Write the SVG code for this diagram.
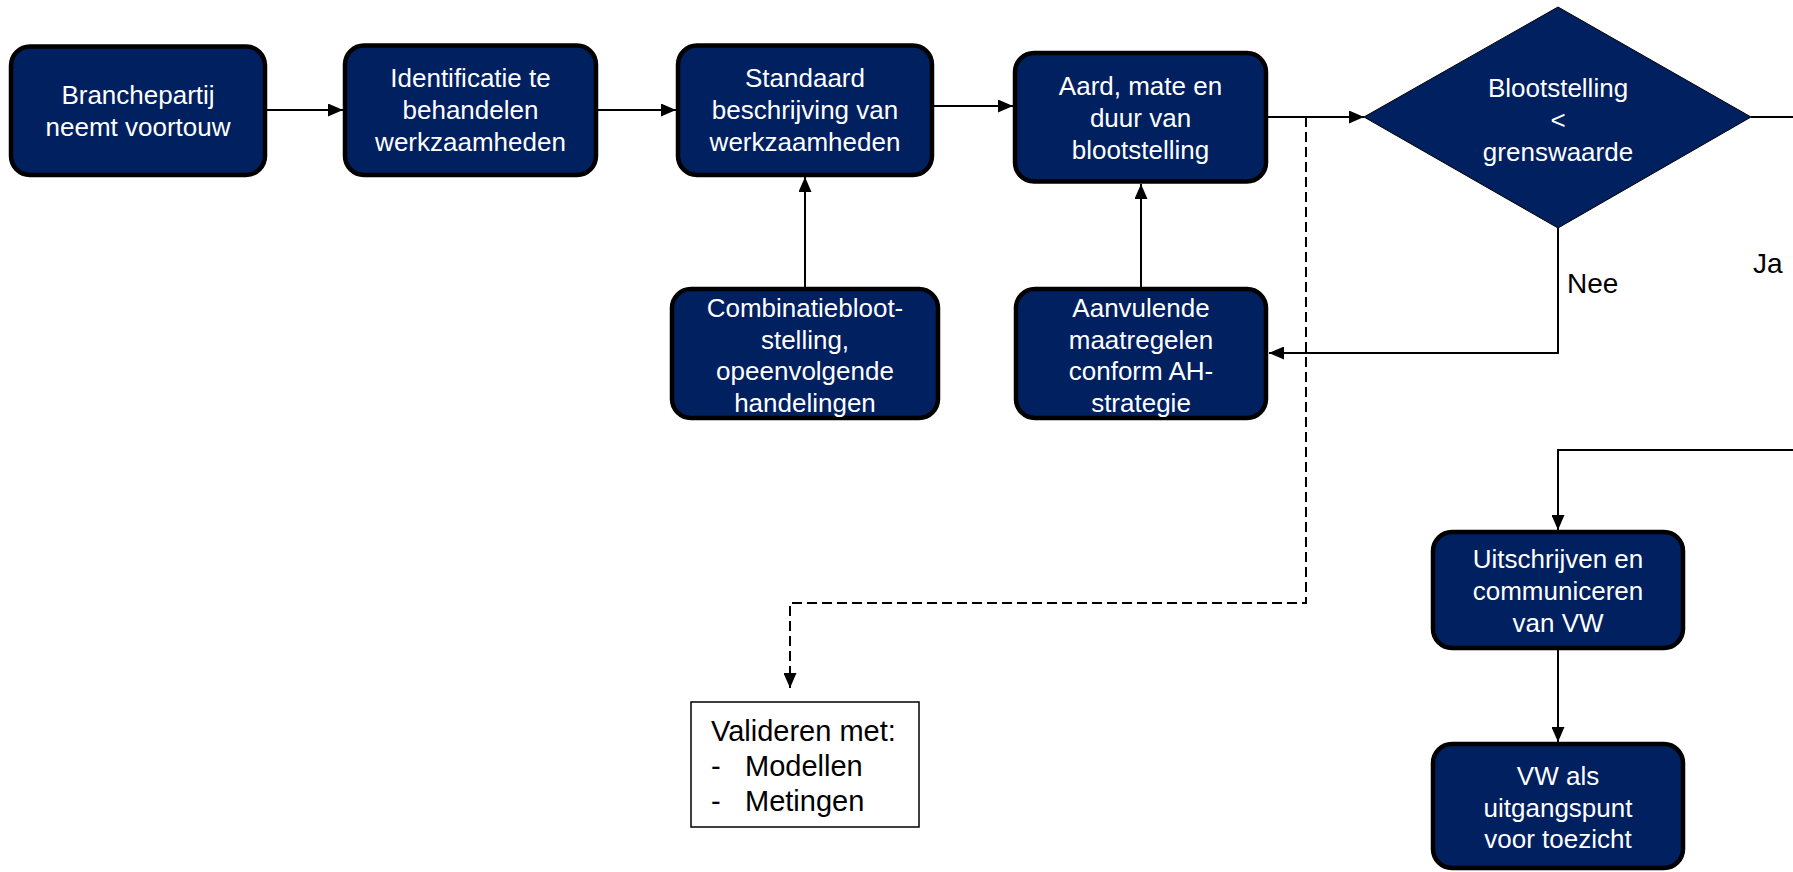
<svg xmlns="http://www.w3.org/2000/svg" width="1793" height="872" viewBox="0 0 1793 872">
<style>
.box{fill:#002060;stroke:#000;stroke-width:4.5}
.dia{fill:#002060;stroke:#000;stroke-width:1}
.t{font-family:"Liberation Sans",Arial,sans-serif;font-size:26px;fill:#fff;text-anchor:middle}
.lbl{font-family:"Liberation Sans",Arial,sans-serif;font-size:28px;fill:#000}
.nt{font-family:"Liberation Sans",Arial,sans-serif;font-size:29px;fill:#000}
.ln{fill:none;stroke:#000;stroke-width:2}
.dash{fill:none;stroke:#000;stroke-width:2;stroke-dasharray:10 5}
.note{fill:#fff;stroke:#000;stroke-width:1.5}
</style>
<defs>
<marker id="arr" viewBox="0 0 15 13" refX="15" refY="6.5" markerWidth="15" markerHeight="13" markerUnits="userSpaceOnUse" orient="auto">
<path d="M0,0 L15,6.5 L0,13 Z" fill="#000"/>
</marker>
</defs>
<rect width="1793" height="872" fill="#fff"/>
<g id="connectors">
<path class="ln" d="M267,110 H343" marker-end="url(#arr)"/>
<path class="ln" d="M598,110 H676" marker-end="url(#arr)"/>
<path class="ln" d="M934,106 H1013" marker-end="url(#arr)"/>
<path class="ln" d="M1268,117 H1364" marker-end="url(#arr)"/>
<path class="ln" d="M1751,117 H1793"/>
<path class="ln" d="M1793,450 H1558 V530" marker-end="url(#arr)"/>
<path class="ln" d="M1558,228 V353 H1269" marker-end="url(#arr)"/>
<path class="ln" d="M805,287 V177" marker-end="url(#arr)"/>
<path class="ln" d="M1141,287 V184" marker-end="url(#arr)"/>
<path class="ln" d="M1558,650 V742" marker-end="url(#arr)"/>
<path class="dash" d="M1306,117 V603 H790 V688" marker-end="url(#arr)"/>
<text class="lbl" x="1567" y="293">Nee</text>
<text class="lbl" x="1753" y="273">Ja</text>
</g>
<g id="n1">
<rect class="box" x="11" y="46.5" width="254" height="128.5" rx="19"/>
<text class="t" x="138" y="104">Branchepartij</text>
<text class="t" x="138" y="136">neemt voortouw</text>
</g>
<g id="n2">
<rect class="box" x="345" y="45.5" width="251" height="129.5" rx="19"/>
<text class="t" x="470.5" y="87">Identificatie te</text>
<text class="t" x="470.5" y="119">behandelen</text>
<text class="t" x="470.5" y="151">werkzaamheden</text>
</g>
<g id="n3">
<rect class="box" x="678" y="45.5" width="254" height="129.5" rx="19"/>
<text class="t" x="805" y="87">Standaard</text>
<text class="t" x="805" y="119">beschrijving van</text>
<text class="t" x="805" y="151">werkzaamheden</text>
</g>
<g id="n4">
<rect class="box" x="1015" y="53" width="251" height="128.5" rx="19"/>
<text class="t" x="1140.5" y="95">Aard, mate en</text>
<text class="t" x="1140.5" y="127">duur van</text>
<text class="t" x="1140.5" y="159">blootstelling</text>
</g>
<g id="n5">
<polygon class="dia" points="1558,7 1751,117 1558,228 1364,117"/>
<text class="t" x="1558" y="97">Blootstelling</text>
<text class="t" x="1558" y="129">&lt;</text>
<text class="t" x="1558" y="161">grenswaarde</text>
</g>
<g id="n6">
<rect class="box" x="672" y="289" width="266" height="129" rx="19"/>
<text class="t" x="805" y="317">Combinatiebloot-</text>
<text class="t" x="805" y="348.5">stelling,</text>
<text class="t" x="805" y="380">opeenvolgende</text>
<text class="t" x="805" y="411.5">handelingen</text>
</g>
<g id="n7">
<rect class="box" x="1016" y="289" width="250" height="129" rx="19"/>
<text class="t" x="1141" y="317">Aanvulende</text>
<text class="t" x="1141" y="348.5">maatregelen</text>
<text class="t" x="1141" y="380">conform AH-</text>
<text class="t" x="1141" y="411.5">strategie</text>
</g>
<g id="n8">
<rect class="note" x="691" y="702" width="228" height="125"/>
<text class="nt" x="711" y="741">Valideren met:</text>
<text class="nt" x="711" y="776">-</text>
<text class="nt" x="745" y="776">Modellen</text>
<text class="nt" x="711" y="811">-</text>
<text class="nt" x="745" y="811">Metingen</text>
</g>
<g id="n9">
<rect class="box" x="1433" y="532" width="250" height="116" rx="19"/>
<text class="t" x="1558" y="568">Uitschrijven en</text>
<text class="t" x="1558" y="600">communiceren</text>
<text class="t" x="1558" y="632">van VW</text>
</g>
<g id="n10">
<rect class="box" x="1433" y="744" width="250" height="124" rx="19"/>
<text class="t" x="1558" y="785">VW als</text>
<text class="t" x="1558" y="816.5">uitgangspunt</text>
<text class="t" x="1558" y="848">voor toezicht</text>
</g>
</svg>
